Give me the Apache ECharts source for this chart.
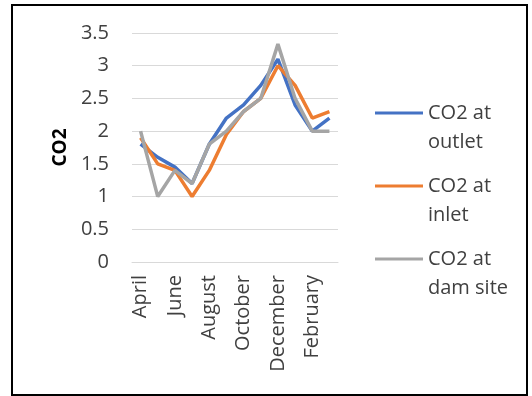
<!DOCTYPE html>
<html>
<head>
<meta charset="utf-8">
<script src="https://cdn.jsdelivr.net/npm/echarts@6/dist/echarts.min.js"></script>
<style>
  html, body { margin: 0; padding: 0; background: #fff; }
  #chart { width: 532px; height: 396px; }
  #frame { position: absolute; left: 11px; top: 4px; width: 513px; height: 388px; border: 2px solid #000; pointer-events: none; }
</style>
</head>
<body>
<div id="chart"></div>
<div id="frame"></div>
<script>
// Monthly CO2 readings, April through March
const months = ['April', 'May', 'June', 'July', 'August', 'September', 'October',
  'November', 'December', 'January', 'February', 'March'];
const outlet = [1.8, 1.6, 1.45, 1.2, 1.8, 2.2, 2.4, 2.7, 3.1, 2.4, 2.0, 2.2];
const inlet = [1.9, 1.5, 1.4, 1.0, 1.4, 1.95, 2.3, 2.5, 3.0, 2.7, 2.2, 2.3];
const damSite = [2.0, 1.0, 1.4, 1.2, 1.8, 2.0, 2.3, 2.5, 3.33, 2.5, 2.0, 2.0];
const yTicks = [0, 0.5, 1, 1.5, 2, 2.5, 3, 3.5];

const seriesNames = ['CO2 at outlet', 'CO2 at inlet', 'CO2 at dam site'];
const seriesData = [outlet, inlet, damSite];
const colors = ['#4472C4', '#ED7D31', '#A5A5A5'];
const FONT = '"Open Sans", sans-serif';
const LINE_H = 29;

// one legend block per series; a blank first line keeps the icon level with "CO2 at"
const iconRows = [113, 186, 259];
const legends = seriesNames.map((name, i) => ({
  data: [name],
  orient: 'vertical',
  left: 375,
  top: iconRows[i] - 1.5 * LINE_H,
  padding: 0,
  icon: 'rect',
  itemWidth: 48,
  itemHeight: 3,
  itemGap: 0,
  selectedMode: false,
  formatter: n => '\n' + n.replace(/^CO2 at /, 'CO2 at\n'),
  textStyle: {
    fontFamily: FONT,
    fontSize: 20,
    color: '#404040',
    lineHeight: LINE_H
  }
}));

const chart = echarts.init(document.getElementById('chart'), null, { renderer: 'canvas' });
chart.setOption({
  animation: false,
  color: colors,
  textStyle: { fontFamily: FONT },
  grid: { left: 132, right: 194, top: 33, bottom: 134, containLabel: false },
  legend: legends,
  xAxis: {
    type: 'category',
    data: months,
    boundaryGap: true,
    axisLine: { lineStyle: { color: '#d9d9d9', width: 1 } },
    axisTick: { show: false },
    axisLabel: {
      interval: 1,
      rotate: 90,
      margin: 13,
      fontFamily: FONT,
      fontSize: 20,
      color: '#404040'
    }
  },
  yAxis: {
    type: 'value',
    min: yTicks[0],
    max: yTicks[yTicks.length - 1],
    interval: 0.5,
    name: 'CO2',
    nameLocation: 'middle',
    nameGap: 62,
    nameRotate: 90,
    nameTextStyle: { fontFamily: FONT, fontSize: 19, fontWeight: 'bold', color: '#000' },
    axisLine: { show: false },
    axisTick: { show: false },
    splitLine: { lineStyle: { color: '#d9d9d9', width: 1 } },
    axisLabel: {
      margin: 23,
      fontFamily: FONT,
      fontSize: 20,
      color: '#404040',
      formatter: v => String(v)
    }
  },
  series: seriesNames.map((name, i) => ({
    name,
    type: 'line',
    data: seriesData[i],
    symbol: 'none',
    lineStyle: { width: 3.5, color: colors[i] },
    z: 2 + i
  }))
});
</script>
</body>
</html>
